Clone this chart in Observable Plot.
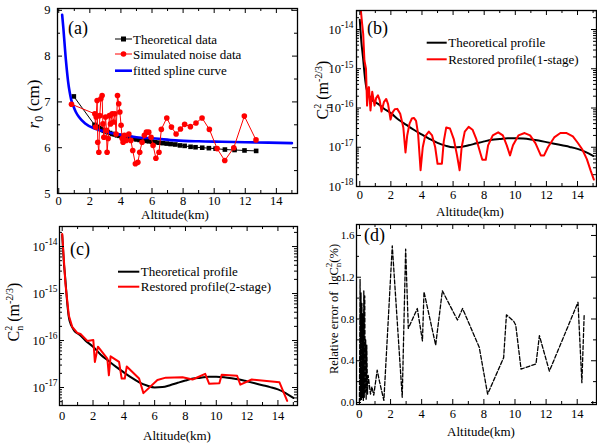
<!DOCTYPE html>
<html><head><meta charset="utf-8">
<script src="https://cdn.jsdelivr.net/npm/d3@7"></script>
<script src="https://cdn.jsdelivr.net/npm/@observablehq/plot@0.6"></script>
<style>
body{margin:0;background:#fff;}
#wrap{position:relative;width:597px;height:444px;overflow:hidden;background:#fff;}
.pan{position:absolute;}
</style></head><body><div id="wrap"></div>
<script>
// ---------- data: panel (a) ----------
const aTheoAlt = [0.97,2.3,2.4,2.5,2.6,2.7,2.8,2.9,3.0,3.15,3.3,3.45,3.6,3.75,3.9,4.05,4.2,4.4,4.6,4.8,5.0,5.2,5.4,5.6,5.8,6.0,6.2,6.45,6.7,6.95,7.2,7.5,7.8,8.1,8.48,8.8,9.23,9.66,10.09,10.69,11.31,11.95,12.7];
const aTheoR0  = [7.12,6.5,6.47,6.45,6.43,6.41,6.39,6.37,6.36,6.34,6.32,6.3,6.29,6.27,6.26,6.25,6.24,6.22,6.21,6.2,6.18,6.17,6.16,6.15,6.14,6.13,6.12,6.11,6.1,6.09,6.08,6.07,6.05,6.04,6.02,6.01,6.0,5.99,5.98,5.96,5.95,5.94,5.93];
const aNoiseAlt = [0.82,2.32,2.37,2.41,2.47,2.51,2.58,2.64,2.71,2.79,2.84,2.90,3.01,3.07,3.11,3.18,3.26,3.33,3.44,3.52,3.61,3.69,3.78,3.86,3.93,4.01,4.08,4.14,4.23,4.34,4.51,4.64,4.76,4.93,5.09,5.21,5.36,5.51,5.64,5.79,5.94,6.07,6.25,6.45,6.6,6.95,7.25,7.55,7.83,8.10,8.47,8.83,9.22,9.69,10.19,10.68,11.26,11.94,12.69];
const aNoiseR0  = [6.95,6.74,6.45,6.67,7.03,6.12,5.90,6.70,7.07,7.14,6.52,6.23,6.67,6.38,5.90,6.20,6.70,6.52,6.74,6.56,6.74,6.30,7.14,6.96,6.78,6.49,6.20,6.12,6.27,6.16,6.30,6.16,5.94,5.65,5.68,5.90,6.12,6.27,6.34,6.34,6.23,6.05,5.77,5.90,6.40,6.65,6.45,6.30,6.41,6.51,6.46,6.54,6.65,6.40,5.98,5.72,6.0,6.69,6.17];
const aSplineAlt = [0.22,0.3,0.38,0.45,0.52,0.6,0.7,0.8,0.95,1.1,1.3,1.7,2.3,3.0,4.0,5.0,6.2,7.5,9.0,10.5,12.0,13.5,15.0];
const aSplineR0  = [8.9,8.6,8.25,7.95,7.7,7.45,7.22,7.05,6.9,6.78,6.67,6.53,6.42,6.35,6.28,6.23,6.2,6.16,6.14,6.13,6.12,6.11,6.1];

// ---------- data: theoretical Cn2 profile (panels b, c) ----------
const theoAlt = [0,0.1,0.21,0.3,0.43,0.55,0.65,0.8,1.0,1.2,1.5,2.0,2.5,3.0,3.5,4.0,4.5,5.0,5.5,6.0,6.5,7.0,7.5,8.0,8.5,9.0,9.5,10.0,10.5,11.0,11.5,12.0,12.5,13.0,13.5,14.0,14.5,15.0];
const theoCn2 = [1.78e-14,5.0e-15,1.91e-15,7.9e-16,3.16e-16,2.24e-16,1.91e-16,1.58e-16,1.41e-16,1.26e-16,1.0e-16,7.4e-17,5.0e-17,3.7e-17,2.75e-17,2.1e-17,1.62e-17,1.29e-17,1.10e-17,1.0e-17,1.02e-17,1.12e-17,1.26e-17,1.41e-17,1.55e-17,1.62e-17,1.70e-17,1.70e-17,1.66e-17,1.58e-17,1.48e-17,1.35e-17,1.23e-17,1.12e-17,1.02e-17,9.1e-18,7.6e-18,6.0e-18];

// ---------- data: panel (b) restored (1-stage) ----------
const bRestAlt = [0.02,0.15,0.22,0.3,0.4,0.47,0.53,0.59,0.69,0.8,0.95,1.05,1.17,1.28,1.4,1.55,1.7,1.82,1.98,2.1,2.25,2.41,2.6,2.8,2.94,3.05,3.2,3.35,3.48,3.62,3.75,3.91,4.05,4.2,4.44,4.65,4.85,5.0,5.28,5.4,5.56,5.8,6.05,6.25,6.42,6.55,6.75,7.0,7.25,7.5,7.75,7.88,8.1,8.25,8.55,8.9,9.2,9.45,9.66,9.85,10.2,10.6,10.95,11.3,11.64,11.85,12.1,12.5,12.9,13.3,13.7,14.0,14.3,14.6,14.85,15.05];
const bRestCn2 = [5.0e-14,1.41e-14,7.8e-15,1.62e-15,1.0e-15,1.15e-16,2.8e-16,3.4e-16,8.7e-17,2.6e-16,1.15e-16,1.78e-16,2.1e-16,1.58e-16,8.1e-17,1.41e-16,1.7e-16,1.26e-16,5.1e-17,7.6e-17,9.3e-17,9.5e-17,7.1e-17,3.2e-17,7.4e-18,2.0e-17,4.0e-17,5.4e-17,5.6e-17,4.7e-17,2.2e-17,2.6e-18,1.0e-17,1.9e-17,2.5e-17,2.0e-17,1.0e-17,3.8e-18,3.8e-18,1.41e-17,3.2e-17,3.0e-17,1.58e-17,6.3e-18,2.6e-18,1.0e-17,2.5e-17,3.3e-17,2.8e-17,1.58e-17,7.1e-18,4.8e-18,4.8e-18,1.12e-17,2.0e-17,2.4e-17,2.0e-17,1.12e-17,6.2e-18,1.12e-17,2.0e-17,2.3e-17,2.0e-17,1.26e-17,6.2e-18,6.2e-18,1.0e-17,1.78e-17,2.3e-17,2.3e-17,1.9e-17,1.32e-17,8.9e-18,5.0e-18,2.5e-18,1.5e-18];

// ---------- data: panel (c) restored (2-stage) ----------
const cRestAlt = [0.0,0.21,0.43,0.65,0.98,1.19,1.63,2.02,2.12,2.32,2.93,3.03,3.14,3.69,3.86,4.06,4.19,4.99,5.27,6.18,6.72,7.81,8.46,9.28,9.54,10.2,10.35,11.35,11.56,12.3,14.1,14.6];
const cRestCn2 = [1.86e-14,1.62e-15,3.4e-16,1.95e-16,1.45e-16,1.38e-16,9.8e-17,1.02e-16,3.5e-17,7.4e-17,4.1e-17,1.82e-17,4.6e-17,3.5e-17,1.55e-17,1.55e-17,2.8e-17,1.55e-17,7.6e-18,1.45e-17,1.62e-17,1.66e-17,1.48e-17,1.95e-17,1.2e-17,1.23e-17,1.86e-17,1.78e-17,1.15e-17,1.48e-17,1.29e-17,5.2e-18];

// ---------- data: panel (d) relative error ----------
const dAlt = [0.0,0.04,0.07,0.1,0.13,0.16,0.19,0.22,0.25,0.28,0.31,0.34,0.37,0.4,0.43,0.47,0.52,0.56,0.71,0.8,0.92,1.14,1.29,1.57,2.11,2.75,2.97,3.14,3.72,4.05,4.15,4.9,5.33,6.3,6.63,7.7,8.24,9.27,9.45,9.91,10.05,10.39,11.35,11.57,12.21,14.05,14.3,14.45];
const dErr = [0.0,1.18,0.02,1.05,0.03,0.95,0.05,0.85,0.02,1.07,0.05,1.02,0.1,0.6,0.03,0.55,0.08,0.26,0.08,0.15,0.07,0.31,0.2,0.02,1.5,0.05,1.47,0.71,0.9,0.59,1.06,0.55,1.07,0.79,0.9,0.53,0.08,0.43,0.84,0.78,0.74,0.32,0.37,0.64,0.3,0.96,0.19,0.85];

// ---------- tick values ----------
const xMajorTicks = [0,2,4,6,8,10,12,14];
const xMinorTicks = [1,3,5,7,9,11,13,15];
const aYMajor = [5,6,7,8,9];
const aYMinor = [5.5,6.5,7.5,8.5];
const bYMajor = [1e-18,1e-17,1e-16,1e-15,1e-14];
const cYMajor = [1e-17,1e-16,1e-15,1e-14];
const dYMajor = [0,0.4,0.8,1.2,1.6];
const dYMinor = [0.2,0.6,1.0,1.4];
const dYLabels = ["0.0","0.4","0.8","1.2","1.6"];

const FONT = '"Liberation Serif","Times New Roman",serif';
const zip = (xs, ys) => xs.map((x, i) => ({x, y: ys[i]}));
function logMinor(lo, hi) {
  const out = [];
  for (let e = -19; e <= -13; e++) for (let k = 2; k <= 9; k++) {
    const v = k * Math.pow(10, e);
    if (v >= lo && v <= hi) out.push(v);
  }
  return out;
}

function makePanel(c) {
  const iw = c.W - c.ml - c.mr, ih = c.H - c.mt - c.mb;
  const L = 5, l = 3;
  const tk = {stroke: "black", strokeWidth: 1};
  const xin = a => a.filter(v => v >= c.xd[0] && v <= c.xd[1]);
  const marks = [
    ...c.marks,
    Plot.tickX(xin(xMajorTicks), {x: d => d, insetTop: ih - L, ...tk}),
    Plot.tickX(xin(xMajorTicks), {x: d => d, insetBottom: ih - L, ...tk}),
    Plot.tickX(xin(xMinorTicks), {x: d => d, insetTop: ih - l, ...tk}),
    Plot.tickX(xin(xMinorTicks), {x: d => d, insetBottom: ih - l, ...tk}),
    Plot.tickY(c.yMajor, {y: d => d, insetRight: iw - L, ...tk}),
    Plot.tickY(c.yMajor, {y: d => d, insetLeft: iw - L, ...tk}),
    Plot.tickY(c.yMinor, {y: d => d, insetRight: iw - l, ...tk}),
    Plot.tickY(c.yMinor, {y: d => d, insetLeft: iw - l, ...tk}),
    Plot.axisX({ticks: xMajorTicks, tickSize: 0, tickPadding: c.xPad, tickFormat: d => String(d), label: null, fontSize: 12.5}),
    Plot.axisY({ticks: c.yMajor, tickSize: 0, tickPadding: c.yPad, tickFormat: c.yFmt, label: null, fontSize: c.yFont || 12.5}),
    Plot.frame({stroke: "black", strokeWidth: 1.3})
  ];
  const svg = Plot.plot({
    width: c.W, height: c.H,
    marginLeft: c.ml, marginRight: c.mr, marginTop: c.mt, marginBottom: c.mb,
    x: {domain: c.xd},
    y: {type: c.ytype || "linear", domain: c.yd},
    style: {fontFamily: FONT, fontSize: "12.5px", background: "transparent", overflow: "visible", color: "black"},
    marks
  });
  // superscript exponents for log tick labels
  d3.select(svg).selectAll("text").each(function () {
    const m = /^10\^(-?\d+)$/.exec(this.textContent.trim());
    if (m) {
      const el = d3.select(this);
      el.text(null);
      el.append("tspan").text("10");
      el.append("tspan").attr("dy", "-0.55em").style("font-size", "0.75em").text(m[1]);
    }
  });
  const div = document.createElement("div");
  div.className = "pan";
  div.style.left = c.left + "px"; div.style.top = c.top + "px";
  div.style.width = c.W + "px"; div.style.height = c.H + "px";
  div.appendChild(svg);
  document.getElementById("wrap").appendChild(div);
  return d3.select(svg);
}

function txt(s, x, y, str, size, opts = {}) {
  return s.append("text").attr("x", x).attr("y", y).attr("text-anchor", opts.anchor || "start")
    .style("font-family", FONT).style("font-size", size + "px").attr("fill", "black").text(str);
}

const logFmt = d => "10^" + Math.round(Math.log10(d));

// ---------- panel (a) ----------
const A = makePanel({
  left: 0, top: 0, W: 297, H: 222, ml: 57, mr: 0, mt: 8, mb: 29,
  xd: [-0.08, 15.36], yd: [5, 9.04], yMajor: aYMajor, yMinor: aYMinor,
  yFmt: d => String(d), xPad: 3, yPad: 7,
  marks: [
    Plot.line(zip(aTheoAlt, aTheoR0), {x: "x", y: "y", stroke: "black", strokeWidth: 1}),
    Plot.dot(zip(aTheoAlt, aTheoR0), {x: "x", y: "y", symbol: "square", fill: "black", r: 2.6}),
    Plot.line(zip(aSplineAlt, aSplineR0), {x: "x", y: "y", stroke: "#0000ff", strokeWidth: 2.6, curve: "monotone-x"}),
    Plot.line(zip(aNoiseAlt, aNoiseR0), {x: "x", y: "y", stroke: "#ff0000", strokeWidth: 1}),
    Plot.dot(zip(aNoiseAlt, aNoiseR0), {x: "x", y: "y", fill: "#ff0000", r: 2.8})
  ]
});
txt(A, 68, 34, "(a)", 18);
txt(A, 175, 219, "Altitude(km)", 13, {anchor: "middle"});
{
  const t = A.append("text").attr("transform", "translate(39,104) rotate(-90)").attr("text-anchor", "middle")
    .style("font-family", FONT).style("font-size", "17px").attr("fill", "black");
  t.append("tspan").style("font-style", "italic").text("r");
  t.append("tspan").attr("dy", 4).style("font-size", "12px").text("0");
  t.append("tspan").attr("dy", -4).text(" (cm)");
  const leg = [["Theoretical data", "black", "sq", 39], ["Simulated noise data", "#ff0000", "ci", 54], ["fitted spline curve", "#0000ff", "ln", 70.7]];
  for (const [label, col, kind, y] of leg) {
    A.append("line").attr("x1", 115).attr("x2", 132).attr("y1", y).attr("y2", y).attr("stroke", col).attr("stroke-width", kind === "ln" ? 2.6 : 1);
    if (kind === "sq") A.append("rect").attr("x", 121).attr("y", y - 2.5).attr("width", 5).attr("height", 5).attr("fill", col);
    if (kind === "ci") A.append("circle").attr("cx", 123.5).attr("cy", y).attr("r", 2.8).attr("fill", col);
    txt(A, 133, y + 4.5, label, 13);
  }
}

// ---------- panel (b) ----------
const B = makePanel({
  left: 297, top: 0, W: 300, H: 222, ml: 59, mr: 1, mt: 10, mb: 36,
  xd: [-0.21, 15.22], yd: [1e-18, 3.05e-14], ytype: "log",
  yMajor: bYMajor, yMinor: logMinor(1e-18, 3.05e-14),
  yFmt: logFmt, xPad: 4, yPad: 3,
  marks: [
    Plot.line(zip(theoAlt, theoCn2), {x: "x", y: "y", stroke: "black", strokeWidth: 2, curve: "monotone-x", clip: true}),
    Plot.line(zip(bRestAlt, bRestCn2), {x: "x", y: "y", stroke: "#ff0000", strokeWidth: 2, clip: true})
  ]
});
txt(B, 70, 34, "(b)", 18);
txt(B, 173, 216, "Altitude(km)", 13, {anchor: "middle"});
function cn2Label(S, tx, ty) {
  const t = S.append("text").attr("transform", `translate(${tx},${ty}) rotate(-90)`).attr("text-anchor", "middle")
    .style("font-family", FONT).style("font-size", "16px").attr("fill", "black");
  t.append("tspan").text("C");
  t.append("tspan").attr("dy", -7).style("font-size", "10px").text("2");
  t.append("tspan").attr("dx", -5).attr("dy", 11).style("font-size", "10px").text("n");
  t.append("tspan").attr("dy", -4).text(" (m");
  t.append("tspan").attr("dy", -6).style("font-size", "10px").text("-2/3");
  t.append("tspan").attr("dy", 6).text(")");
}
cn2Label(B, 31, 90);
function legend2(S, x1, x2, y1, y2, l1, l2) {
  S.append("line").attr("x1", x1).attr("x2", x2).attr("y1", y1).attr("y2", y1).attr("stroke", "black").attr("stroke-width", 2);
  S.append("line").attr("x1", x1).attr("x2", x2).attr("y1", y2).attr("y2", y2).attr("stroke", "#ff0000").attr("stroke-width", 2);
  txt(S, x2 + 1.5, y1 + 4.5, l1, 13);
  txt(S, x2 + 1.5, y2 + 4.5, l2, 13);
}
legend2(B, 129.7, 149.7, 42.7, 59.3, "Theoretical profile", "Restored profile(1-stage)");

// ---------- panel (c) ----------
const C = makePanel({
  left: 0, top: 222, W: 297, H: 222, ml: 59, mr: 0, mt: 4, mb: 39,
  xd: [-0.175, 15.27], yd: [4.14e-18, 2.67e-14], ytype: "log",
  yMajor: cYMajor, yMinor: logMinor(4.14e-18, 2.67e-14),
  yFmt: logFmt, xPad: 6, yPad: 2,
  marks: [
    Plot.line(zip(theoAlt, theoCn2), {x: "x", y: "y", stroke: "black", strokeWidth: 2, curve: "monotone-x", clip: true}),
    Plot.line(zip(cRestAlt, cRestCn2), {x: "x", y: "y", stroke: "#ff0000", strokeWidth: 2, clip: true})
  ]
});
txt(C, 70, 33, "(c)", 18);
txt(C, 177, 218, "Altitude(km)", 13, {anchor: "middle"});
cn2Label(C, 19, 90);
legend2(C, 118, 139.3, 49.7, 64.7, "Theoretical profile", "Restored profile(2-stage)");

// ---------- panel (d) ----------
const D = makePanel({
  left: 297, top: 222, W: 300, H: 222, ml: 59, mr: 1, mt: 2, mb: 40,
  xd: [-0.19, 15.24], yd: [-0.019, 1.705],
  yMajor: dYMajor, yMinor: dYMinor,
  yFmt: d => dYLabels[dYMajor.indexOf(d)], xPad: 5, yPad: 2, yFont: 11,
  marks: [
    Plot.line(zip(dAlt, dErr), {x: "x", y: "y", stroke: "black", strokeWidth: 1.3, strokeDasharray: "4,2"})
  ]
});
txt(D, 67, 19, "(d)", 18);
txt(D, 184, 214, "Altitude(km)", 13, {anchor: "middle"});
{
  const t = D.append("text").attr("transform", "translate(41,87) rotate(-90)").attr("text-anchor", "middle")
    .style("font-family", FONT).style("font-size", "12.5px").attr("fill", "black");
  t.append("tspan").text("Relative error of  lgC");
  t.append("tspan").attr("dy", -6).style("font-size", "9px").text("2");
  t.append("tspan").attr("dx", -4.5).attr("dy", 9).style("font-size", "9px").text("n");
  t.append("tspan").attr("dy", -3).text("(%)");
}
</script></body></html>
